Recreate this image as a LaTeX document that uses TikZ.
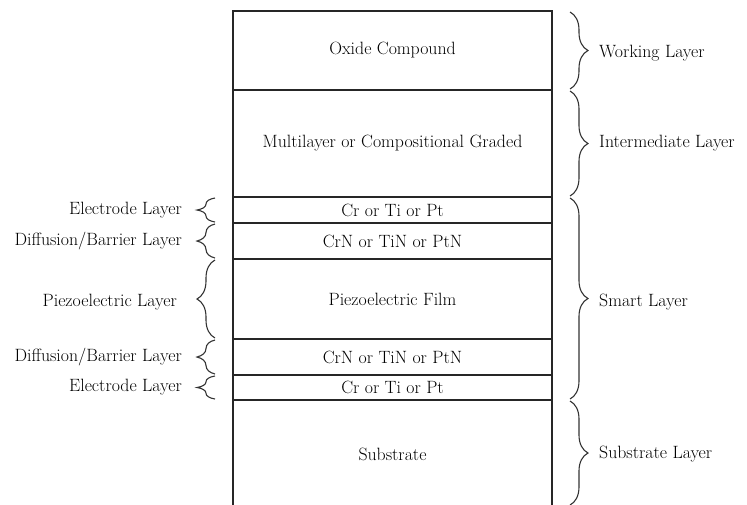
\documentclass[tikz,border=0pt]{standalone}
\usetikzlibrary{positioning,decorations.pathreplacing}

\begin{document}
\begin{tikzpicture}[
    x=1pt, y=-1pt,
    node distance=0pt,
    font=\fontsize{17.8}{21}\selectfont,
    layer/.style={rectangle, draw=black!85, line width=1.4pt, minimum width=319pt, inner sep=0pt, outer sep=0pt, align=center},
    tag/.style={inner sep=0pt},
    brc/.style={decorate, decoration={brace, amplitude=18pt}, line width=1.1pt, draw=black!80}
]
\useasboundingbox (0,0) rectangle (747,504);

% layer stack, top to bottom
\node[layer, minimum height=79pt, anchor=north west] (oxide) at (233,11) {Oxide Compound};
\node[layer, minimum height=107pt, below=of oxide] (graded) {Multilayer or Compositional Graded};
\node[layer, minimum height=26pt, below=of graded] (elecA) {Cr or Ti or Pt};
\node[layer, minimum height=36pt, below=of elecA] (diffA) {CrN or TiN or PtN};
\node[layer, minimum height=80pt, below=of diffA] (piezo) {Piezoelectric Film};
\node[layer, minimum height=36pt, below=of piezo] (diffB) {CrN or TiN or PtN};
\node[layer, minimum height=25pt, below=of diffB] (elecB) {Cr or Ti or Pt};
\node[layer, minimum height=108pt, below=of elecB] (substrate) {Substrate};

% names on the left
\node[tag, left=51pt of elecA, anchor=east] (elecAtag) {Electrode Layer};
\node[tag, left=51pt of diffA, anchor=east] (diffAtag) {Diffusion/Barrier Layer};
\node[tag, left=56pt of piezo, anchor=east, yshift=-3pt] (piezotag) {Piezoelectric Layer};
\node[tag, left=51pt of diffB, anchor=east] (diffBtag) {Diffusion/Barrier Layer};
\node[tag, left=51pt of elecB, anchor=east] (elecBtag) {Electrode Layer};

% groups on the right
\node[tag, right=47pt of oxide, anchor=west, yshift=-3pt] (working) {Working Layer};
\node[tag, right=47pt of graded, anchor=west] (intermediate) {Intermediate Layer};
\node[tag, right=47pt of piezo, anchor=west, yshift=-3pt] (smart) {Smart Layer};
\node[tag, right=47pt of substrate, anchor=west] (substag) {Substrate Layer};

\draw[brc] ([xshift=-18pt,yshift=1pt]elecA.south west) -- ([xshift=-18pt,yshift=-1pt]elecA.north west);
\draw[brc] ([xshift=-18pt,yshift=1pt]diffA.south west) -- ([xshift=-18pt,yshift=-1pt]diffA.north west);
\draw[brc] ([xshift=-18pt,yshift=1pt]piezo.south west) -- ([xshift=-18pt,yshift=-1pt]piezo.north west);
\draw[brc] ([xshift=-18pt,yshift=1pt]diffB.south west) -- ([xshift=-18pt,yshift=-1pt]diffB.north west);
\draw[brc] ([xshift=-18pt,yshift=1pt]elecB.south west) -- ([xshift=-18pt,yshift=-1pt]elecB.north west);

\draw[brc] ([xshift=18pt,yshift=-1pt]oxide.north east) -- ([xshift=18pt,yshift=1pt]oxide.south east);
\draw[brc] ([xshift=18pt,yshift=-1pt]graded.north east) -- ([xshift=18pt,yshift=1pt]graded.south east);
\draw[brc] ([xshift=18pt,yshift=-1pt]elecA.north east) -- ([xshift=18pt,yshift=1pt]elecB.south east);
\draw[brc] ([xshift=18pt,yshift=-1pt]substrate.north east) -- ([xshift=18pt,yshift=3pt]substrate.south east);
\end{tikzpicture}
\end{document}
